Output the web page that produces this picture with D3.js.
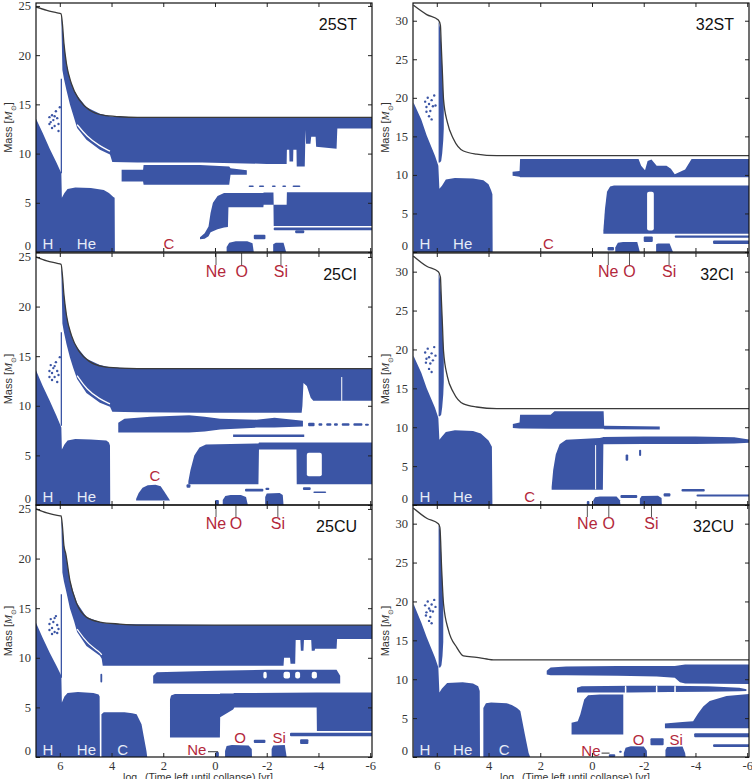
<!DOCTYPE html>
<html>
<head>
<meta charset="utf-8">
<script src="https://cdn.jsdelivr.net/npm/d3@7"></script>
<style>
    body { margin: 0; background: #fff; }
    svg { display: block; font-family: "Liberation Sans", Arial, sans-serif; }
    .tick text { font-family: "Liberation Serif", "Times New Roman", serif; font-size: 12.5px; fill: #333; }
    .tick line { stroke: #222; }
</style>
</head>
<body>
<svg id="chart" width="752" height="779"></svg>
<script>

// Kippenhahn diagrams: blue = convective zones, x = log10(time left until collapse), y = mass

const blue = '#3b55a5';
const red = '#b3283b';
const paleText = '#e6ecf7';

const xTicks = [6, 4, 2, 0, -2, -4, -6];
const yTicks25 = [0, 5, 10, 15, 20, 25];
const yTicks32 = [0, 5, 10, 15, 20, 25, 30];

// ---------- 25ST ----------
const surface25ST = [[6.93,24.9],[6.5,24.55],[6.1,24.3],[5.95,24.2],[5.9,23.2],[5.84,21.2],[5.74,19.1],[5.55,17.1],[5.23,15.4],[4.84,14.4],[4.32,13.9],[3.68,13.74],[3.0,13.68],[-6.1,13.68]];
const envelope25ST = [[5.94,23.7,24.1],[5.90,18.5,23.2],[5.84,17.6,21.2],[5.74,16.4,19.1],[5.61,15.0,17.6],[5.48,13.9,16.6],[5.33,12.6,15.9],[4.97,11.4,14.7],[4.45,10.4,14.05],[4.06,9.9,13.8],[3.97,9.15,13.78],[3.0,9.1,13.68],[0.5,9.1,13.68],[-2.0,8.95,13.68],[-2.77,8.95,13.68],[-2.78,10.4,13.68],[-2.87,10.4,13.68],[-2.88,9.2,13.68],[-3.02,9.2,13.68],[-3.03,10.4,13.68],[-3.15,10.4,13.68],[-3.16,8.7,13.68],[-3.47,8.7,13.68],[-3.5,12.4,13.68],[-3.52,11.0,13.68],[-3.69,11.0,13.68],[-3.72,11.7,13.68],[-3.89,11.7,13.68],[-3.91,10.7,13.68],[-4.7,10.5,13.68],[-4.73,12.55,13.68],[-6.1,12.55,13.68]];
const streak25ST = [[5.33,12.95],[4.97,11.75],[4.45,10.75],[4.06,10.25]];
const core25ST = [[6.93,0,13.6],[6.66,0,12.1],[6.39,0,10.5],[6.13,0,9.1],[5.94,0,8.0],[5.92,0,5.5],[5.82,0,6.0],[5.7,0,6.4],[5.4,0,6.55],[4.8,0,6.5],[4.3,0,6.3],[4.1,0,6.0],[3.93,0,5.6],[3.88,0,5.5],[3.87,0,0]];
const shell25ST = [[3.61,7.17,8.35],[2.78,7.17,8.35],[2.76,6.84,8.85],[1.5,6.84,8.85],[0.58,6.84,8.85],[-0.55,6.84,8.7],[-0.6,7.85,8.5],[-1.23,7.85,8.3]];
const cshell25ST = [[0.58,1.3,1.5],[0.4,1.35,1.9],[0.25,1.6,2.6],[0.17,2.0,4.0],[0.08,2.1,5.0],[-0.1,2.3,5.7],[-0.35,2.5,6.0],[-0.5,2.55,6.0],[-0.52,4.55,6.0],[-1.87,4.55,6.0],[-1.88,4.8,6.05],[-2.26,4.8,6.05],[-2.27,2.63,4.8],[-2.77,2.63,4.8],[-2.78,2.63,6.06],[-6.1,2.63,6.06]];
const o25ST = [[-0.45,0,0.5],[-0.55,0,0.95],[-0.8,0,1.1],[-1.25,0,1.1],[-1.45,0,0.9],[-1.5,0,0]];
const si25ST = [[-2.25,0,0.8],[-2.35,0,0.95],[-2.65,0,0.95],[-2.75,0,0]];
const bits25ST = [[-2.27,-6.1,2.2,2.5],[-1.5,-1.95,1.3,1.75],[-3.1,-3.45,1.9,2.2],[-1.3,-1.5,6.6,6.75],[-1.7,-1.9,6.6,6.75],[-2.2,-2.35,6.6,6.75],[-2.6,-2.75,6.6,6.75],[-3.0,-3.3,6.6,6.75]];
const vlines25ST = [[5.94,8.0,17.6]];
const dots25ST = [[6.4,13.7],[6.35,13.2],[6.3,13.9],[6.25,13.4],[6.2,12.8],[6.15,14.3],[6.1,13.6],[6.05,13.0],[6.3,12.6],[6.0,14.7],[6.05,12.3],[6.4,13.0],[6.2,13.8]];
const labels25ST = [['H',6.46,0.3,'w'],['He',4.97,0.3,'w'],['C',1.78,0.3,'r']];

// ---------- 32ST ----------
const surface32ST = [[6.9,32.0],[6.39,30.8],[5.94,30.1],[5.86,29.4],[5.83,27.0],[5.78,23.0],[5.74,19.8],[5.59,16.8],[5.36,14.7],[4.97,13.1],[4.46,12.7],[3.68,12.5],[-6.1,12.5]];
const strip32ST = [[5.93,11.6,29.9],[5.88,11.6,29.2],[5.83,11.8,27.0],[5.79,12.8,23.8],[5.75,14.5,20.3],[5.73,16.0,19.6]];
const core32ST = [[6.9,0,19.4],[6.6,0,17.2],[6.39,0,15.1],[6.07,0,12.5],[5.94,0,11.2],[5.9,0,8.2],[5.8,0,8.6],[5.65,0,9.4],[5.3,0,9.6],[4.6,0,9.55],[4.2,0,9.3],[4.0,0,8.8],[3.9,0,8.0],[3.85,0,7.5],[3.84,0,0]];
const shell32ST = [[3.07,9.9,10.4],[2.8,9.75,10.5],[2.78,9.7,12.07],[-1.8,9.7,12.07],[-1.9,9.7,11.2],[-2.05,9.7,10.6],[-2.15,9.7,11.8],[-2.3,9.7,12.0],[-2.5,9.7,11.2],[-2.88,9.7,11.2],[-3.05,9.7,10.8],[-3.2,9.7,10.1],[-3.6,9.7,10.7],[-3.85,9.7,12.07],[-6.1,9.7,12.07]];
const bshell32ST = [[-0.44,2.37,2.8],[-0.5,2.37,5.5],[-0.58,2.37,7.8],[-0.7,2.37,8.5],[-0.85,2.37,8.62],[-6.1,2.37,8.62]];
const o32ST = [[-0.9,0,0.6],[-1.0,0,1.2],[-1.2,0,1.3],[-1.75,0,1.3],[-1.85,0,0]];
const si32ST = [[-2.48,0,1.0],[-2.55,0,1.1],[-3.0,0,1.1],[-3.13,0,0]];
const bits32ST = [[-0.6,-0.85,0.2,0.65],[-2.0,-2.35,1.3,2.0],[-4.68,-6.1,1.05,1.5],[-3.2,-6.1,1.85,2.15]];
const gaps32ST = [[-2.13,-2.39,2.8,7.8]];
const dots32ST = [[6.45,19.5],[6.4,18.8],[6.35,20.0],[6.3,19.2],[6.25,18.3],[6.2,19.7],[6.15,18.9],[6.3,17.6],[6.2,17.2],[6.1,20.3],[6.4,18.2],[6.05,19.0]];
const labels32ST = [['H',6.46,0.4,'w'],['He',5.0,0.4,'w'],['C',1.68,0.4,'r']];

// ---------- 25CI ----------
const surface25CI = [[6.93,25.0],[6.5,24.6],[6.1,24.35],[5.95,24.25],[5.9,23.2],[5.84,21.2],[5.74,19.1],[5.55,17.1],[5.23,15.4],[4.84,14.45],[4.32,13.95],[3.68,13.8],[3.0,13.75],[-6.1,13.75]];
const envelope25CI = [[5.94,23.7,24.15],[5.90,18.3,23.2],[5.84,17.4,21.2],[5.74,16.2,19.1],[5.61,14.9,17.6],[5.48,13.8,16.6],[5.33,12.7,15.9],[4.97,11.3,14.75],[4.45,10.3,14.1],[4.06,9.9,13.88],[3.97,9.4,13.85],[3.0,9.35,13.75],[0.5,9.3,13.75],[-3.35,9.3,13.75],[-3.38,10.0,13.75],[-3.42,12.3,13.75],[-3.55,12.0,13.75],[-3.7,10.8,13.75],[-3.8,10.5,13.75],[-6.1,10.5,13.75]];
const streak25CI = [[5.33,13.05],[4.97,11.65],[4.45,10.65],[4.06,10.2]];
const core25CI = [[6.93,0,13.65],[6.66,0,12.0],[6.39,0,10.5],[6.13,0,9.0],[5.94,0,7.8],[5.92,0,5.6],[5.82,0,6.1],[5.7,0,6.5],[5.4,0,6.65],[4.8,0,6.6],[4.2,0,6.5],[4.1,0,6.3],[4.06,0,6.0],[4.05,0,0]];
const shell25CI = [[3.74,7.3,8.3],[3.5,7.3,8.7],[2.5,7.3,8.9],[1.0,7.3,9.05],[0.4,7.4,8.9],[-0.2,7.6,8.7],[-1.6,7.8,8.6],[-2.3,7.8,8.8],[-3.4,7.9,8.5]];
const band25CI = [[-0.7,6.85,7.1],[-3.45,6.85,7.1]];
const cshell25CI = [[1.03,2.1,2.4],[0.95,2.1,3.5],[0.8,2.1,5.0],[0.6,2.1,5.8],[0.35,2.1,6.1],[-1.6,2.1,6.2],[-1.68,2.1,6.2],[-1.7,5.6,6.3],[-3.15,5.6,6.3],[-3.16,2.1,6.3],[-6.1,2.1,6.3]];
const bump25CI = [[3.05,0.45,0.6],[2.95,0.45,1.2],[2.8,0.45,1.75],[2.6,0.45,2.0],[2.3,0.45,2.05],[2.1,0.45,1.9],[1.95,0.45,1.3],[1.8,0.45,0.7],[1.74,0.45,0.45]];
const o25CI = [[-0.3,0,0.5],[-0.4,0,0.9],[-0.6,0,1.0],[-1.0,0,1.0],[-1.2,0,0.8],[-1.27,0,0]];
const si25CI = [[-1.94,0,0.8],[-2.0,0,1.15],[-2.5,0,1.2],[-2.62,0,1.0],[-2.65,0,0]];
const bits25CI = [[1.1,0.95,1.75,2.1],[-1.16,-1.87,1.35,1.65],[-1.95,-2.1,1.5,1.75],[-3.4,-3.7,1.5,1.8],[-3.8,-4.3,1.2,1.35],[0.0,-0.15,0,0.5],[-3.6,-3.85,7.95,8.3],[-4.0,-4.15,8.0,8.25],[-4.3,-4.5,8.0,8.25],[-4.6,-4.75,8.0,8.25],[-4.9,-5.2,8.0,8.25],[-5.35,-5.7,8.0,8.25],[-5.8,-5.95,8.0,8.2]];
const gaps25CI = [[-3.55,-4.13,2.9,5.27]];
const cuts25CI = [[-4.9,10.5,12.9]];
const vlines25CI = [[5.94,8.0,17.4]];
const dots25CI = [[6.4,13.5],[6.35,14.1],[6.3,13.3],[6.25,13.8],[6.2,12.9],[6.15,14.4],[6.1,13.5],[6.3,12.6],[6.05,13.1],[6.4,12.9],[6.2,14.0],[6.1,12.4],[6.0,14.9]];
const labels25CI = [['H',6.46,0.3,'w'],['He',4.97,0.3,'w'],['C',2.32,2.4,'r']];
const marks25CI = [['Ne',-0.04],['O',-1.03],['Si',-2.55]];

// ---------- 32CI ----------
const surface32CI = [[6.9,32.0],[6.39,30.7],[5.94,30.0],[5.86,29.3],[5.83,27.0],[5.78,23.0],[5.74,19.8],[5.59,16.5],[5.36,14.5],[4.97,13.0],[4.46,12.6],[3.68,12.4],[-6.1,12.4]];
const strip32CI = [[5.93,11.4,29.8],[5.88,11.4,29.1],[5.83,11.6,27.0],[5.79,12.6,23.8],[5.75,14.2,20.3],[5.73,15.8,19.6]];
const core32CI = [[6.9,0,19.2],[6.6,0,17.0],[6.39,0,15.0],[6.07,0,12.5],[5.94,0,11.2],[5.9,0,8.4],[5.8,0,8.8],[5.65,0,9.4],[5.3,0,9.6],[4.6,0,9.5],[4.3,0,9.2],[4.0,0,8.3],[3.87,0,7.5],[3.85,0,0]];
const shell32CI = [[3.06,9.9,10.4],[2.8,9.85,10.6],[2.78,9.85,11.6],[1.6,9.8,11.6],[1.45,9.8,12.05],[-0.45,9.8,12.05],[-0.47,9.75,10.2],[-2.62,9.7,10.1]];
const bshell32CI = [[1.56,1.95,2.3],[1.5,1.95,4.5],[1.4,1.95,6.5],[1.25,1.95,7.8],[1.0,1.95,8.4],[-0.3,1.95,8.6],[-0.42,1.95,8.7],[-0.44,7.8,8.75],[-2.0,7.85,8.8],[-4.0,7.85,8.8],[-5.5,7.9,8.7],[-6.1,8.0,8.4]];
const o32CI = [[-0.05,0,0.6],[-0.12,0,1.0],[-0.3,0,1.1],[-0.95,0,1.1],[-1.08,0,0.6],[-1.1,0,0]];
const si32CI = [[-1.85,0,0.8],[-1.92,0,1.15],[-2.55,0,1.2],[-2.69,0,0.9],[-2.7,0,0]];
const bits32CI = [[-1.3,-1.4,5.7,6.5],[-1.82,-1.9,6.3,7.1],[-1.1,-1.75,0.9,1.3],[-2.77,-3.03,1.1,1.5],[-3.46,-4.36,1.75,2.05],[-4.04,-6.1,1.1,1.35],[0.2,0.1,0,0.5]];
const cuts32CI = [[-0.14,2.0,7.7]];
const dots32CI = [[6.45,19.6],[6.4,18.8],[6.35,20.1],[6.3,19.0],[6.25,18.2],[6.2,19.5],[6.15,18.6],[6.3,17.5],[6.2,17.1],[6.1,20.3],[6.42,18.3],[6.05,19.2]];
const labels32CI = [['H',6.46,0.4,'w'],['He',5.0,0.4,'w'],['C',2.41,0.42,'r']];
const marks32CI = [['Ne',-0.63],['O',-1.45],['Si',-2.98]];

// ---------- 25CU ----------
const surface25CU = [[6.93,25.0],[6.5,24.6],[6.1,24.35],[5.95,24.3],[5.9,23.3],[5.84,21.3],[5.77,20.5],[5.61,17.8],[5.35,15.5],[4.97,14.1],[4.45,13.6],[3.68,13.4],[2.9,13.3],[-6.1,13.3]];
const envelope25CU = [[5.94,23.7,24.2],[5.90,18.6,23.3],[5.84,17.7,21.3],[5.77,16.9,20.5],[5.61,15.0,17.8],[5.45,13.7,16.4],[5.33,12.6,15.5],[4.97,11.2,14.1],[4.45,10.2,13.6],[4.38,9.9,13.55],[4.34,9.2,13.5],[3.68,9.2,13.4],[0.0,9.2,13.3],[-2.65,9.2,13.3],[-2.67,10.0,13.3],[-2.9,10.0,13.3],[-2.92,9.4,13.3],[-3.1,9.4,13.3],[-3.12,11.8,13.3],[-3.3,11.8,13.3],[-3.32,10.7,13.3],[-3.42,10.7,13.3],[-3.44,11.8,13.3],[-3.72,11.8,13.3],[-3.74,10.7,13.3],[-3.85,10.7,13.3],[-3.87,10.9,13.3],[-4.7,10.9,13.3],[-4.72,11.9,13.3],[-6.1,11.9,13.3]];
const streak25CU = [[5.33,12.9],[4.97,11.55],[4.45,10.55],[4.38,10.3]];
const core25CU = [[6.93,0,13.6],[6.66,0,12.0],[6.39,0,10.5],[6.13,0,9.2],[5.94,0,8.2],[5.92,0,5.5],[5.82,0,6.1],[5.7,0,6.45],[5.3,0,6.55],[4.7,0,6.45],[4.5,0,6.3],[4.46,0,6.1],[4.45,0,0]];
const ccore25CU = [[4.39,0,4.3],[4.3,0,4.5],[3.5,0,4.5],[3.2,0,4.4],[3.03,0,4.3],[2.84,0,3.3],[2.77,0,2.3],[2.65,0,0.6],[2.62,0,0]];
const shell25CU = [[2.39,7.4,8.2],[2.25,7.4,8.55],[1.5,7.4,8.6],[0.0,7.4,8.7],[-2.0,7.4,8.8],[-4.7,7.4,8.8],[-4.84,7.4,8.2]];
const cshell25CU = [[1.74,1.96,5.8],[1.7,1.96,6.2],[1.55,1.96,6.35],[-0.19,1.96,6.35],[-0.2,4.0,6.4],[-0.7,4.8,6.4],[-0.75,5.0,6.45],[-3.93,5.0,6.5],[-3.94,2.63,6.5],[-6.1,2.63,6.5]];
const o25CU = [[-0.39,0,0.6],[-0.45,0,1.1],[-0.65,0,1.2],[-1.3,0,1.15],[-1.42,0,0.8],[-1.43,0,0]];
const si25CU = [[-2.19,0,0.8],[-2.25,0,1.15],[-2.7,0,1.2],[-2.77,0,0]];
const bits25CU = [[4.43,4.36,7.5,8.4],[-2.9,-6.1,2.1,2.45],[-1.5,-1.95,1.4,1.75],[-3.29,-3.61,1.3,1.8],[-0.02,-0.15,0,0.5]];
const gaps25CU = [[-1.87,-2.0,7.9,8.6],[-2.65,-2.9,7.9,8.6],[-3.1,-3.29,7.9,8.6],[-3.74,-3.94,7.9,8.6]];
const vlines25CU = [[5.94,8.0,16.4]];
const dots25CU = [[6.4,13.4],[6.35,13.9],[6.3,13.0],[6.25,13.6],[6.2,12.6],[6.15,14.2],[6.1,13.3],[6.3,12.4],[6.05,12.9],[6.4,12.8],[6.2,14.0],[6.1,12.5]];
const labels25CU = [['H',6.46,0.2,'w'],['He',4.97,0.2,'w'],['C',3.57,0.2,'w'],['Ne',0.7,0.2,'r'],['O',-0.97,1.4,'r'],['Si',-2.48,1.4,'r']];
const pointer25CU = [[0.27,0.53],[-0.12,0.53]];
const marks25CU = [['Ne',-0.04],['O',-0.81],['Si',-2.43]];

// ---------- 32CU ----------
const surface32CU = [[6.9,32.0],[6.39,30.7],[5.94,30.0],[5.88,29.5],[5.81,24.0],[5.74,19.7],[5.55,16.3],[5.23,14.1],[4.97,13.0],[4.46,12.8],[4.07,12.6],[3.81,12.5],[-6.1,12.5]];
const strip32CU = [[5.93,11.5,29.8],[5.87,11.5,29.2],[5.82,11.8,25.0],[5.78,13.0,22.0],[5.75,14.8,20.0]];
const core32CU = [[6.9,0,19.7],[6.6,0,17.3],[6.39,0,15.4],[6.07,0,12.8],[5.94,0,11.5],[5.9,0,8.3],[5.8,0,8.8],[5.6,0,9.5],[5.0,0,9.6],[4.6,0,9.45],[4.4,0,9.1],[4.34,0,8.5],[4.33,0,0]];
const ccore32CU = [[4.2,0,6.3],[4.1,0,6.9],[3.9,0,7.0],[3.3,0,6.9],[3.1,0,6.7],[2.9,0,6.3],[2.77,0,5.9],[2.6,0,3.0],[2.45,0,0.5],[2.39,0,0]];
const shell32CU = [[1.75,10.6,11.1],[1.6,10.5,11.5],[1.0,10.5,11.65],[-1.0,10.45,11.7],[-2.5,10.35,11.7],[-3.2,10.2,11.7],[-3.4,9.6,11.8],[-3.6,9.45,11.9],[-6.1,9.4,11.9]];
const band32CU = [[0.58,8.3,8.9],[0.4,8.3,9.1],[-1.5,8.3,9.15],[-3.0,8.35,9.15],[-4.5,8.4,9.1],[-5.7,8.45,8.9],[-5.97,8.5,8.7]];
const bshell32CU = [[0.79,2.9,4.4],[0.55,2.9,4.6],[0.45,2.9,5.5],[0.3,2.9,7.4],[0.15,2.9,7.95],[-0.3,2.9,8.05],[-1.21,2.9,8.05]];
const rshell32CU = [[-2.82,3.7,4.3],[-3.5,3.7,4.5],[-3.91,3.7,4.6],[-4.1,3.7,5.6],[-4.3,3.7,6.5],[-4.55,3.7,7.2],[-5.2,3.7,7.85],[-6.1,3.7,8.1]];
const o32CU = [[-1.23,0,0.5],[-1.3,0,1.2],[-1.5,0,1.38],[-2.0,0,1.35],[-2.12,0,0.8],[-2.13,0,0]];
const si32CU = [[-2.84,0,0.9],[-2.9,0,1.3],[-3.5,0,1.35],[-3.6,0,0.5],[-3.62,0,0]];
const bits32CU = [[-3.95,-6.1,2.55,3.05],[-4.68,-6.1,1.3,1.65],[-2.26,-2.77,1.5,2.4],[-0.65,-0.9,0,0.35],[-1.05,-1.15,0.55,0.8]];
const gaps32CU = [[-1.27,-1.33,8.1,9.2],[-2.47,-2.53,8.1,9.2],[-3.18,-3.24,8.1,9.2]];
const dots32CU = [[6.45,19.5],[6.4,18.6],[6.35,20.0],[6.3,19.1],[6.25,18.0],[6.2,19.6],[6.15,18.7],[6.3,17.5],[6.2,17.2],[6.1,20.2],[6.42,18.2],[6.05,19.3],[6.25,18.8]];
const labels32CU = [['H',6.46,0.2,'w'],['He',5.0,0.2,'w'],['C',3.4,0.2,'w'],['Ne',0.04,0.1,'r'],['O',-1.8,1.55,'r'],['Si',-3.25,1.55,'r']];
const pointer32CU = [[-0.37,0.5],[-0.68,0.5]];
const marks32CU = [['Ne',0.18],['O',-0.65],['Si',-2.3]];


// panel table built from the arrays above
const panels = [
    {name: '25ST', col: 0, row: 0, ymax: 25.3, yTicks: yTicks25, surface: surface25ST,
     zones: [envelope25ST, core25ST, shell25ST, cshell25ST, o25ST, si25ST],
     bits: bits25ST, gaps: [], cuts: [], streaks: [streak25ST], vlines: vlines25ST, dots: dots25ST,
     labels: labels25ST, marks: [], pointer: null},
    {name: '32ST', col: 1, row: 0, ymax: 32.3, yTicks: yTicks32, surface: surface32ST,
     zones: [strip32ST, core32ST, shell32ST, bshell32ST, o32ST, si32ST],
     bits: bits32ST, gaps: gaps32ST, cuts: [], streaks: [], vlines: [], dots: dots32ST,
     labels: labels32ST, marks: [], pointer: null},
    {name: '25CI', col: 0, row: 1, ymax: 25.4, yTicks: yTicks25, surface: surface25CI,
     zones: [envelope25CI, core25CI, shell25CI, band25CI, cshell25CI, bump25CI, o25CI, si25CI],
     bits: bits25CI, gaps: gaps25CI, cuts: cuts25CI, streaks: [streak25CI], vlines: vlines25CI, dots: dots25CI,
     labels: labels25CI, marks: marks25CI, pointer: null},
    {name: '32CI', col: 1, row: 1, ymax: 32.4, yTicks: yTicks32, surface: surface32CI,
     zones: [strip32CI, core32CI, shell32CI, bshell32CI, o32CI, si32CI],
     bits: bits32CI, gaps: [], cuts: cuts32CI, streaks: [], vlines: [], dots: dots32CI,
     labels: labels32CI, marks: marks32CI, pointer: null},
    {name: '25CU', col: 0, row: 2, ymax: 25.4, yTicks: yTicks25, surface: surface25CU,
     zones: [envelope25CU, core25CU, ccore25CU, shell25CU, cshell25CU, o25CU, si25CU],
     bits: bits25CU, gaps: gaps25CU, cuts: [], streaks: [streak25CU], vlines: vlines25CU, dots: dots25CU,
     labels: labels25CU, marks: marks25CU, pointer: pointer25CU},
    {name: '32CU', col: 1, row: 2, ymax: 32.4, yTicks: yTicks32, surface: surface32CU,
     zones: [strip32CU, core32CU, ccore32CU, shell32CU, band32CU, bshell32CU, rshell32CU, o32CU, si32CU],
     bits: bits32CU, gaps: gaps32CU, cuts: [], streaks: [], vlines: [], dots: dots32CU,
     labels: labels32CU, marks: marks32CU, pointer: pointer32CU}
];

const lefts = [36, 413];
const plotW = 336;
const tops = [3, 253, 505];
const bottoms = [252, 505, 757];

const svg = d3.select('#chart');
const defs = svg.append('defs');

panels.forEach(function (p, i) {

    let left = lefts[p.col], top = tops[p.row], bottom = bottoms[p.row];

    let x = d3.scaleLinear().domain([6.92, -6.07]).range([left, left + plotW]);
    let y = d3.scaleLinear().domain([0, p.ymax]).range([bottom, top]);

    defs.append('clipPath').attr('id', 'clip' + i)
        .append('rect')
        .attr('x', left).attr('y', top)
        .attr('width', plotW).attr('height', bottom - top);

    let g = svg.append('g');
    let plot = g.append('g').attr('clip-path', `url(#clip${i})`);

    let area = d3.area()
        .x(d => x(d[0]))
        .y0(d => y(d[1]))
        .y1(d => y(d[2]));

    let line = d3.line()
        .x(d => x(d[0]))
        .y(d => y(d[1]));

    // convective zones
    plot.selectAll('path.zone')
        .data(p.zones)
        .join('path')
        .attr('class', 'zone')
        .attr('d', area)
        .attr('fill', blue);

    // small pieces [x0, x1, lo, hi]
    plot.selectAll('rect.bit')
        .data(p.bits)
        .join('rect')
        .attr('class', 'bit')
        .attr('x', d => Math.min(x(d[0]), x(d[1])))
        .attr('width', d => Math.abs(x(d[1]) - x(d[0])))
        .attr('y', d => y(d[3]))
        .attr('height', d => y(d[2]) - y(d[3]))
        .attr('rx', 1)
        .attr('fill', blue);

    // radiative holes inside zones
    plot.selectAll('rect.gap')
        .data(p.gaps)
        .join('rect')
        .attr('class', 'gap')
        .attr('x', d => Math.min(x(d[0]), x(d[1])))
        .attr('width', d => Math.abs(x(d[1]) - x(d[0])))
        .attr('y', d => y(d[3]))
        .attr('height', d => y(d[2]) - y(d[3]))
        .attr('rx', 2)
        .attr('fill', '#fff');

    plot.selectAll('line.cut')
        .data(p.cuts)
        .join('line')
        .attr('class', 'cut')
        .attr('x1', d => x(d[0])).attr('x2', d => x(d[0]))
        .attr('y1', d => y(d[1])).attr('y2', d => y(d[2]))
        .attr('stroke', '#fff')
        .attr('stroke-width', 1);

    plot.selectAll('path.streak')
        .data(p.streaks)
        .join('path')
        .attr('class', 'streak')
        .attr('d', d => d3.line().curve(d3.curveBasis).x(e => x(e[0])).y(e => y(e[1]))(d))
        .attr('fill', 'none')
        .attr('stroke', '#fff')
        .attr('stroke-width', 1.3);

    plot.selectAll('line.vl')
        .data(p.vlines)
        .join('line')
        .attr('class', 'vl')
        .attr('x1', d => x(d[0])).attr('x2', d => x(d[0]))
        .attr('y1', d => y(d[1])).attr('y2', d => y(d[2]))
        .attr('stroke', blue)
        .attr('stroke-width', 1.3);

    plot.selectAll('circle.dot')
        .data(p.dots)
        .join('circle')
        .attr('class', 'dot')
        .attr('cx', d => x(d[0]))
        .attr('cy', d => y(d[1]))
        .attr('r', 1.2)
        .attr('fill', blue);

    // stellar surface
    plot.append('path')
        .datum(p.surface)
        .attr('d', line.curve(d3.curveMonotoneX))
        .attr('fill', 'none')
        .attr('stroke', '#3a3a3a')
        .attr('stroke-width', 1.3);

    // labels of burning stages inside the panel
    plot.selectAll('text.stage')
        .data(p.labels)
        .join('text')
        .attr('class', 'stage')
        .attr('x', d => x(d[1]))
        .attr('y', d => y(d[2]))
        .attr('text-anchor', 'middle')
        .style('font-size', '15px')
        .attr('fill', d => d[3] === 'w' ? paleText : red)
        .text(d => d[0]);

    if (p.pointer) {
        plot.append('path')
            .datum(p.pointer)
            .attr('d', d3.line().x(d => x(d[0])).y(d => y(d[1])))
            .attr('stroke', '#333')
            .attr('stroke-width', 1);
    }

    // markers for the panel above
    p.marks.forEach(function (m) {
        g.append('line')
            .attr('x1', x(m[1])).attr('x2', x(m[1]))
            .attr('y1', top).attr('y2', top + 12)
            .attr('stroke', '#555')
            .attr('stroke-width', 1);
        g.append('text')
            .attr('x', x(m[1]))
            .attr('y', top + 24)
            .attr('text-anchor', 'middle')
            .style('font-size', '16px')
            .attr('fill', red)
            .text(m[0]);
    });

    // panel name
    g.append('text')
        .attr('x', left + 321)
        .attr('y', top + 27)
        .attr('text-anchor', 'end')
        .style('font-size', '16px')
        .attr('fill', '#111')
        .text(p.name);

    // axes, ticks pointing inward
    g.append('g')
        .attr('transform', `translate(${left},0)`)
        .call(d3.axisLeft(y).tickValues(p.yTicks).tickSize(-4).tickPadding(5).tickFormat(d => d))
        .call(a => a.select('.domain').remove())
        .call(a => a.selectAll('.tick text').filter(d => d === 0).attr('dy', '-0.22em'));

    g.append('g')
        .attr('transform', `translate(${left + plotW},0)`)
        .call(d3.axisRight(y).tickValues(p.yTicks).tickSize(-4).tickFormat(''))
        .call(a => a.select('.domain').remove());

    g.append('g')
        .attr('transform', `translate(0,${top})`)
        .call(d3.axisTop(x).tickValues(xTicks).tickSize(-4).tickFormat(''))
        .call(a => a.select('.domain').remove());

    g.append('g')
        .attr('transform', `translate(0,${bottom})`)
        .call(d3.axisBottom(x).tickValues(xTicks).tickSize(-4).tickPadding(4)
            .tickFormat(d => p.row === 2 ? String(d) : ''))
        .call(a => a.select('.domain').remove());

    // frame
    g.append('rect')
        .attr('x', left).attr('y', top)
        .attr('width', plotW).attr('height', bottom - top)
        .attr('fill', 'none')
        .attr('stroke', '#111')
        .attr('stroke-width', 1.2);

    // y label
    let yl = g.append('text')
        .attr('transform', `translate(${left - 24},${(top + bottom) / 2}) rotate(-90)`)
        .attr('text-anchor', 'middle')
        .style('font-size', '11px')
        .attr('fill', '#333');
    yl.append('tspan').text('Mass [');
    yl.append('tspan').style('font-style', 'italic').style('font-family', '"Liberation Serif", serif').text('M');
    yl.append('tspan').attr('baseline-shift', 'sub').style('font-size', '7px').text('\u2299');
    yl.append('tspan').text(']');

    // x label, bottom row only
    if (p.row === 2) {
        let xl = g.append('text')
            .attr('x', left + plotW / 2 - 6)
            .attr('y', 781)
            .attr('text-anchor', 'middle')
            .style('font-size', '10.5px')
            .attr('fill', '#333');
        xl.append('tspan').text('log');
        xl.append('tspan').attr('baseline-shift', 'sub').style('font-size', '7px').text('10');
        xl.append('tspan').text('(Time left until collapse) [yr]');
    }
});

</script>
</body>
</html>
